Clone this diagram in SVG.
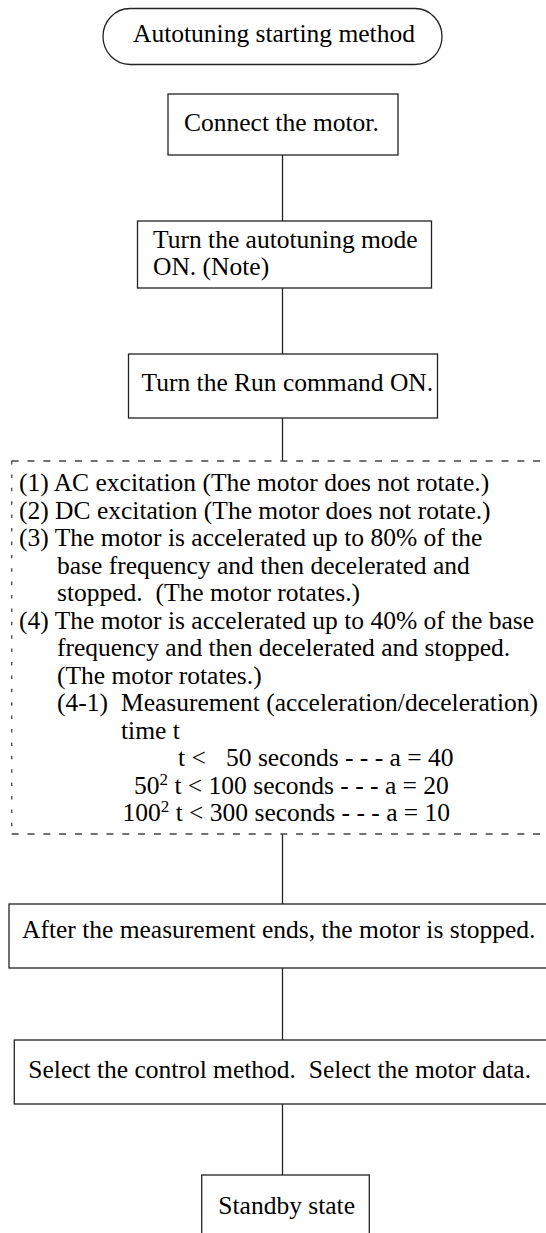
<svg xmlns="http://www.w3.org/2000/svg" width="546" height="1233" viewBox="0 0 546 1233">
<style>
  text { font-family: "Liberation Serif", "Times New Roman", serif; font-size: 25.5px; fill: #000; white-space: pre; }
  .box { fill: #fff; stroke: #222; stroke-width: 1.3; }
  .conn { stroke: #222; stroke-width: 1.3; fill: none; }
  .dh { stroke: #444; stroke-width: 1.3; stroke-dasharray: 7 8.8; fill: none; }
  .dv { stroke: #444; stroke-width: 1.3; stroke-dasharray: 3.5 9.9; fill: none; }
  .sup { font-size: 17px; }
</style>
<rect width="546" height="1233" fill="#fff"/>
<g id="connectors">
  <line class="conn" x1="282.5" y1="155" x2="282.5" y2="221"/>
  <line class="conn" x1="282.5" y1="288" x2="282.5" y2="354"/>
  <line class="conn" x1="282.5" y1="418" x2="282.5" y2="461"/>
  <line class="conn" x1="282.5" y1="834" x2="282.5" y2="904"/>
  <line class="conn" x1="282.5" y1="968" x2="282.5" y2="1040"/>
  <line class="conn" x1="282.5" y1="1104" x2="282.5" y2="1175"/>
</g>
<g id="start">
  <rect class="box" x="103" y="8.5" width="339" height="56" rx="27" ry="28"/>
  <text x="133" y="42">Autotuning starting method</text>
</g>
<g id="connect">
  <rect class="box" x="168" y="94" width="230" height="61"/>
  <text x="184" y="131">Connect the motor.</text>
</g>
<g id="autotune">
  <rect class="box" x="137.5" y="221" width="294" height="67"/>
  <text x="153" y="247.5">Turn the autotuning mode</text>
  <text x="153" y="274.5">ON. (Note)</text>
</g>
<g id="run">
  <rect class="box" x="128.5" y="354" width="309" height="64"/>
  <text x="141.5" y="390.5">Turn the Run command ON.</text>
</g>
<g id="process">
  <line class="dh" x1="11.7" y1="461" x2="550" y2="461"/>
  <line class="dh" x1="11.7" y1="834" x2="550" y2="834"/>
  <line class="dv" x1="11.7" y1="461" x2="11.7" y2="834"/>
  <text x="19" y="491">(1) AC excitation (The motor does not rotate.)</text>
  <text x="19" y="518.5">(2) DC excitation (The motor does not rotate.)</text>
  <text x="19" y="546">(3) The motor is accelerated up to 80% of the</text>
  <text x="57" y="573.5">base frequency and then decelerated and</text>
  <text x="57" y="601" xml:space="preserve">stopped.  (The motor rotates.)</text>
  <text x="19" y="628.5">(4) The motor is accelerated up to 40% of the base</text>
  <text x="57" y="656">frequency and then decelerated and stopped.</text>
  <text x="57" y="683.5">(The motor rotates.)</text>
  <text x="57" y="711">(4-1)</text>
  <text x="121" y="711">Measurement (acceleration/deceleration)</text>
  <text x="121" y="738.5">time t</text>
  <text x="178" y="766">t &lt;<tspan x="226">50 seconds - - - a = 40</tspan></text>
  <text x="134" y="793.5">50<tspan class="sup" dy="-9">2</tspan><tspan dy="9"> t &lt; 100 seconds - - - a = 20</tspan></text>
  <text x="122.5" y="821">100<tspan class="sup" dy="-9">2</tspan><tspan dy="9"> t &lt; 300 seconds - - - a = 10</tspan></text>
</g>
<g id="stopped">
  <rect class="box" x="9" y="904" width="560" height="64"/>
  <text x="22" y="938">After the measurement ends, the motor is stopped.</text>
</g>
<g id="select">
  <rect class="box" x="14.3" y="1040" width="560" height="64"/>
  <text x="28.3" y="1078" xml:space="preserve">Select the control method.  Select the motor data.</text>
</g>
<g id="standby">
  <rect class="box" x="201.7" y="1175" width="167.6" height="80"/>
  <text x="218.3" y="1214">Standby state</text>
</g>
</svg>
